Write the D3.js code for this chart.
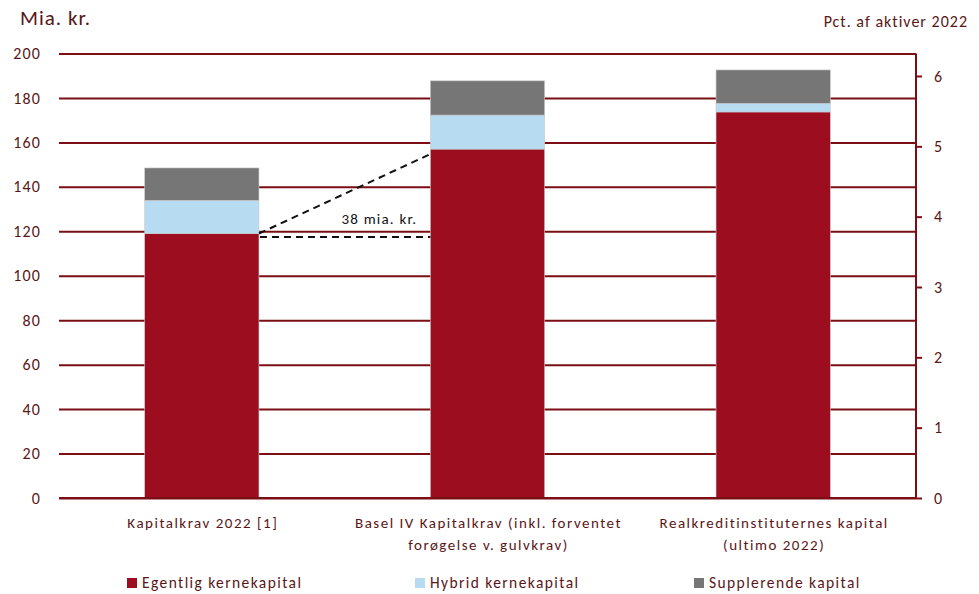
<!DOCTYPE html>
<html>
<head>
<meta charset="utf-8">
<script src="https://cdn.jsdelivr.net/npm/d3@7"></script>
<style>
  html, body { margin: 0; padding: 0; background: #fff; }
  svg { display: block; font-family: Carlito, Lato, "Liberation Sans", sans-serif; }
</style>
</head>
<body>
<svg id="chart" width="979" height="594"></svg>
<script>
// Categories (multi-line labels)
const categories = [
  ["Kapitalkrav 2022 [1]"],
  ["Basel IV Kapitalkrav (inkl. forventet", "forøgelse v. gulvkrav)"],
  ["Realkreditinstituternes kapital", "(ultimo 2022)"]
];
// Series values, mia. kr.
const seriesNames = ["Egentlig kernekapital", "Hybrid kernekapital", "Supplerende kapital"];
const egentlig = [119, 157, 173.7];
const hybrid = [14.9, 15.3, 3.9];
const supplerende = [14.6, 15.4, 15.0];
const leftTicks = [0, 20, 40, 60, 80, 100, 120, 140, 160, 180, 200];
const rightTicks = [0, 1, 2, 3, 4, 5, 6];
const gapLabel = "38 mia. kr.";

const colors = ["#9b0d1f", "#b7dcf2", "#767676"];
const textColor = "#5a1616";
const gridColor = "#7a0e14";
const fontFam = "Carlito, Lato, sans-serif";

const svg = d3.select("#chart");
const m = { left: 59, right: 916, top: 53.5, bottom: 498 };

const x = d3.scaleBand().domain(d3.range(categories.length))
  .range([m.left, m.right]).paddingInner(0.6).paddingOuter(0.3);
const y = d3.scaleLinear().domain([0, 200]).range([m.bottom, m.top]);
const yR = d3.scaleLinear().domain([0, 6]).range([m.bottom, 76]);

// Gridlines (left axis, no domain line)
const gAxisL = svg.append("g").attr("transform", `translate(${m.left},0)`)
  .call(d3.axisLeft(y).tickValues(leftTicks).tickSize(-(m.right - m.left)).tickPadding(18));
gAxisL.select(".domain").remove();
gAxisL.selectAll(".tick line").attr("stroke", gridColor).attr("stroke-width", 2);
gAxisL.selectAll(".tick text").attr("fill", textColor).attr("font-size", 16)
  .attr("letter-spacing", 1.1).attr("font-family", fontFam);

// Stacked bars
const rows = categories.map((c, i) => ({ i, a: egentlig[i], b: hybrid[i], c: supplerende[i] }));
const stack = d3.stack().keys(["a", "b", "c"])(rows);
svg.append("g").selectAll("g").data(stack).join("g")
  .attr("fill", (d, k) => colors[k])
  .selectAll("rect").data(d => d).join("rect")
  .attr("x", d => x(d.data.i))
  .attr("width", x.bandwidth())
  .attr("y", d => y(d[1]))
  .attr("height", d => y(d[0]) - y(d[1]))
  .attr("stroke", "#c8c8c8").attr("stroke-width", 0.6);

// Right axis
const gAxisR = svg.append("g").attr("transform", `translate(${m.right},0)`)
  .call(d3.axisRight(yR).tickValues(rightTicks).tickSize(6).tickPadding(12).tickFormat(d3.format("d")));
gAxisR.select(".domain").attr("d", `M0,${m.top}V${m.bottom}`).attr("stroke", gridColor).attr("stroke-width", 2);
gAxisR.selectAll(".tick line").attr("stroke", gridColor).attr("stroke-width", 2);
gAxisR.selectAll(".tick text").attr("fill", textColor).attr("font-size", 16)
  .attr("font-family", fontFam);

// Bottom baseline
svg.append("line").attr("x1", m.left).attr("x2", m.right)
  .attr("y1", y(0)).attr("y2", y(0)).attr("stroke", gridColor).attr("stroke-width", 2);

// Dashed connectors showing the increase in core capital requirement
const x1 = x(0) + x.bandwidth(), x2 = x(1);
const dash = svg.append("g").attr("stroke", "#111").attr("stroke-width", 2)
  .attr("stroke-dasharray", "7,5").attr("fill", "none");
dash.append("line").attr("x1", x1).attr("y1", y(egentlig[0]))
  .attr("x2", x2).attr("y2", y(egentlig[1]) + 5);
dash.append("line").attr("x1", x1 + 1).attr("y1", y(egentlig[0]) + 3.5)
  .attr("x2", x2).attr("y2", y(egentlig[0]) + 3.5);
svg.append("text").attr("x", x2 - 13).attr("y", y(egentlig[0]) - 10)
  .attr("text-anchor", "end").attr("font-size", 15).attr("letter-spacing", 1.2)
  .attr("fill", "#111").text(gapLabel);

// Category labels
const catG = svg.append("g").attr("fill", textColor).attr("font-size", 15)
  .attr("letter-spacing", 1.5).attr("text-anchor", "middle");
categories.forEach((lines, i) => {
  lines.forEach((t, j) => {
    catG.append("text").attr("x", x(i) + x.bandwidth() / 2 + 1).attr("y", 528 + j * 22).text(t);
  });
});

// Axis titles
svg.append("text").attr("x", 20).attr("y", 25).attr("font-size", 21).attr("letter-spacing", 1)
  .attr("fill", textColor).text("Mia. kr.");
svg.append("text").attr("x", 968).attr("y", 27).attr("text-anchor", "end").attr("font-size", 16)
  .attr("letter-spacing", 1).attr("fill", textColor).text("Pct. af aktiver 2022");

// Legend
const legendX = [127, 415, 694];
const leg = svg.append("g");
seriesNames.forEach((n, k) => {
  leg.append("rect").attr("x", legendX[k]).attr("y", 578).attr("width", 10).attr("height", 10).attr("fill", colors[k]);
  leg.append("text").attr("x", legendX[k] + 15).attr("y", 588).attr("font-size", 15.5)
    .attr("letter-spacing", 1.4).attr("fill", textColor).text(n);
});
</script>
</body>
</html>
